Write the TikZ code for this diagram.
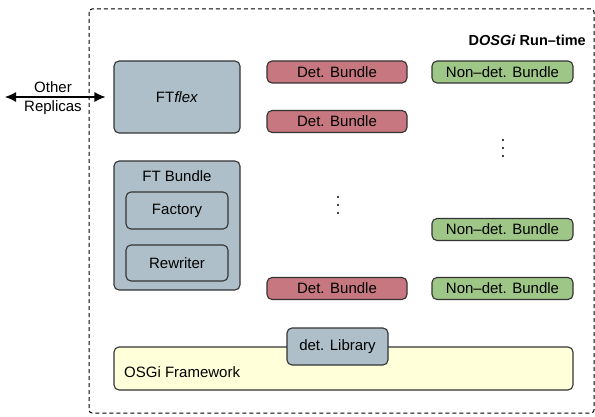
\documentclass[tikz,border=0pt]{standalone}
\usepackage{fontspec}
\setmainfont{Liberation Sans}
\usetikzlibrary{arrows.meta}
\definecolor{ftblue}{HTML}{AEBFC9}
\definecolor{detred}{HTML}{C6777F}
\definecolor{ndgreen}{HTML}{9EC687}
\definecolor{fwyellow}{HTML}{FFFFD9}
\definecolor{edge}{HTML}{333333}
\tikzset{
  box/.style={draw=edge, line width=1.1pt, rounded corners=5pt, inner sep=0pt, font=\fontsize{15}{17}\selectfont},
  ftbox/.style={box, fill=ftblue},
  detbox/.style={box, fill=detred, minimum width=140pt, minimum height=22pt},
  ndbox/.style={box, fill=ndgreen, minimum width=141pt, minimum height=22pt},
  lbl/.style={font=\fontsize{15}{17}\selectfont, inner sep=0pt},
  dotc/.style={fill=black, draw=none, circle, minimum size=2.2pt, inner sep=0pt},
}
\begin{document}
\begin{tikzpicture}[x=1pt,y=-1pt]
\useasboundingbox (0,0) rectangle (595,417);
% outer run-time box
\draw[dash pattern=on 4pt off 3pt, line width=1pt, rounded corners=3pt] (89,9) rectangle (594,413);
\node[anchor=east, font=\bfseries\fontsize{14.5}{17}\selectfont, inner sep=0pt] (rt) at (586,40) {D\textit{OSGi} Run\textendash time};
% FTflex
\node[ftbox, minimum width=126pt, minimum height=72pt] (flex) at (177,97) {FT\textit{flex}};
% FT Bundle
\node[ftbox, minimum width=126pt, minimum height=129pt] (ftb) at (177,225.5) {};
\node[lbl] (ftbl) at (177,176) {FT Bundle};
\node[ftbox, minimum width=102pt, minimum height=37pt] (fac) at (177,210.5) {Factory};
\node[ftbox, minimum width=102pt, minimum height=36pt] (rew) at (177,263) {Rewriter};
% Det bundles
\node[detbox] (d1) at (337,72) {Det. Bundle};
\node[detbox] (d2) at (337,121.5) {Det. Bundle};
\node[detbox] (d3) at (337,288.5) {Det. Bundle};
% Non-det bundles
\node[ndbox] (n1) at (502.5,72) {Non\textendash det. Bundle};
\node[ndbox] (n2) at (502.5,229.5) {Non\textendash det. Bundle};
\node[ndbox] (n3) at (502.5,288.5) {Non\textendash det. Bundle};
% dots
\node[dotc] (a1) at (338,197) {};
\node[dotc] (a2) at (338,205) {};
\node[dotc] (a3) at (338,213) {};
\node[dotc] (b1) at (503,140) {};
\node[dotc] (b2) at (503,148) {};
\node[dotc] (b3) at (503,156) {};
% framework
\node[box, fill=fwyellow, minimum width=459pt, minimum height=43pt] (fw) at (343.5,368.5) {};
\node[lbl, anchor=west] (fwl) at (124,372) {OSGi Framework};
\node[ftbox, minimum width=101pt, minimum height=37pt] (lib) at (337.5,346.5) {det. Library};
% replicas arrow
\coordinate (rl) at (5,97);
\draw[line width=1.1pt, {Latex[length=11pt,width=10pt]}-{Latex[length=11pt,width=10pt]}] (rl) -- ([xshift=-8pt]flex.west);
\node[lbl] (oth) at (53,87) {Other};
\node[lbl] (rep) at (53,108) {Replicas};
\end{tikzpicture}
\end{document}
